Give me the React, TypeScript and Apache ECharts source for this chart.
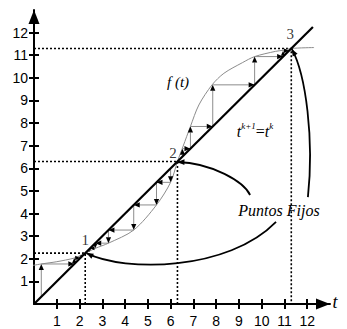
import React, { useEffect, useRef } from 'react';
import * as echarts from 'echarts';

// ---- data ----
const axisTicks = [1, 2, 3, 4, 5, 6, 7, 8, 9, 10, 11, 12];
const fixedPoints = [2.25, 6.3, 11.3];
const fixedPointNames = ['1', '2', '3'];

// f(t) curve
const curveT = [-0.26, 0.32, 1.0, 1.77, 2.03, 2.25, 2.46, 2.69, 3.27, 4.38, 5.38, 6.0, 6.3, 6.55, 6.87, 7.24, 7.82, 8.34, 9.15, 9.69, 10.6, 10.94, 11.3, 12.3];
const curveF = [1.67, 1.77, 1.87, 2.03, 2.14, 2.25, 2.35, 2.46, 2.69, 3.27, 4.38, 5.38, 6.3, 6.98, 7.85, 8.8, 9.69, 10.2, 10.67, 10.94, 11.17, 11.22, 11.3, 11.34];

// cobweb iterations: t^k and f(t^k)
const stairLowT = [0.32, 1.77, 2.03, 2.14];
const stairLowF = [1.77, 2.03, 2.14, 2.2];
const stairMidT = [6.0, 5.38, 4.38, 3.27, 2.69, 2.46];
const stairMidF = [5.38, 4.38, 3.27, 2.69, 2.46, 2.35];
const stairUpT = [6.52, 6.87, 7.85, 9.69, 10.94];
const stairUpF = [6.87, 7.85, 9.69, 10.94, 11.2];

// identity line t^{k+1} = t^k
const diagonalEnd = 12.25;

// "Puntos Fijos" pointers (start, control 1, control 2, end) in data units
const pointerToP2 = [9.49, 4.82, 9.22, 5.4, 7.82, 6.24, 6.3, 6.28];
const pointerToP1 = [10.63, 3.63, 8.52, 1.45, 4.0, 1.4, 2.3, 2.25];
const pointerToP3 = [12.03, 4.73, 12.3, 7.26, 11.95, 10.13, 11.32, 11.28];

function stairs(ts: number[], fs: number[]) {
  const segs: number[][] = [];
  ts.forEach((t, i) => {
    const f = fs[i];
    segs.push([t, t, t, f]);
    segs.push([t, f, f, f]);
  });
  return segs;
}

function arrowHead(tip: number[], ux: number, uy: number, L: number, W: number) {
  const bx = tip[0] - ux * L;
  const by = tip[1] - uy * L;
  return {
    base: [bx, by],
    points: [
      [tip[0], tip[1]],
      [bx - uy * W, by + ux * W],
      [bx + uy * W, by - ux * W],
    ],
  };
}

const serif = "'Liberation Serif', 'DejaVu Serif', serif";
const sans = "'Liberation Sans', Arial, sans-serif";

function serifText(x: number, y: number, text: string, size: number, italic: boolean) {
  return {
    type: 'text',
    x,
    y,
    style: {
      text,
      fill: '#000',
      font: `${italic ? 'italic ' : ''}${size}px ${serif}`,
      fontFamily: serif,
      fontStyle: italic ? 'italic' : 'normal',
      fontSize: size,
      align: 'center',
      verticalAlign: 'middle',
    },
  };
}

export default function App() {
  const ref = useRef<HTMLDivElement>(null);

  useEffect(() => {
    if (!ref.current) return;
    const chart = echarts.init(ref.current, null, { renderer: 'svg' });

    const cobweb = [
      ...stairs(stairLowT, stairLowF),
      ...stairs(stairMidT, stairMidF),
      ...stairs(stairUpT, stairUpF),
    ];

    const axisLineStyle = { color: '#000', width: 2 };
    const xBase = { type: 'value', min: 0, max: 13, interval: 1, position: 'bottom', splitLine: { show: false } };
    const yBase = { type: 'value', min: 0, max: 13, interval: 1, position: 'left', splitLine: { show: false } };

    const labelOffsets = [
      [0, -13],
      [-4.5, -8.5],
      [-1, -14],
    ];

    const option: any = {
      animation: false,
      backgroundColor: '#fff',
      grid: { left: 34, right: 17, top: 10, bottom: 25, containLabel: false },
      xAxis: [
        {
          ...xBase,
          axisLine: {
            show: true,
            onZero: false,
            symbol: ['none', 'triangle'],
            symbolSize: [11, 14],
            symbolOffset: [0, -7],
            lineStyle: axisLineStyle,
          },
          axisTick: { show: true, inside: false, length: 5, customValues: axisTicks, lineStyle: axisLineStyle },
          axisLabel: { show: true, customValues: axisTicks, margin: 10, color: '#000', fontFamily: sans, fontSize: 14 },
        },
        {
          ...xBase,
          axisLine: { show: false, onZero: false },
          axisTick: { show: true, inside: true, length: 5, customValues: axisTicks, lineStyle: axisLineStyle },
          axisLabel: { show: false },
        },
      ],
      yAxis: [
        {
          ...yBase,
          axisLine: {
            show: true,
            onZero: false,
            symbol: ['none', 'triangle'],
            symbolSize: [11, 14],
            symbolOffset: [0, -7],
            lineStyle: axisLineStyle,
          },
          axisTick: { show: true, inside: false, length: 5, customValues: axisTicks, lineStyle: axisLineStyle },
          axisLabel: { show: true, customValues: axisTicks, margin: 6, color: '#000', fontFamily: sans, fontSize: 14 },
        },
        {
          ...yBase,
          axisLine: { show: false, onZero: false },
          axisTick: { show: true, inside: true, length: 5, customValues: axisTicks, lineStyle: axisLineStyle },
          axisLabel: { show: false },
        },
      ],
      series: [
        ...fixedPoints.map((p) => ({
          type: 'line',
          xAxisIndex: 0,
          yAxisIndex: 0,
          data: [
            [0, p],
            [p, p],
            [p, 0],
          ],
          symbol: 'none',
          silent: true,
          z: 1,
          lineStyle: { color: '#000', width: 1.6, type: [2, 2] },
        })),
        {
          type: 'line',
          xAxisIndex: 0,
          yAxisIndex: 0,
          data: curveT.map((t, i) => [t, curveF[i]]),
          smooth: 0.3,
          symbol: 'none',
          clip: false,
          silent: true,
          z: 2,
          lineStyle: { color: '#8c8c8c', width: 1 },
        },
        {
          type: 'line',
          xAxisIndex: 0,
          yAxisIndex: 0,
          data: [
            [0, 0],
            [diagonalEnd, diagonalEnd],
          ],
          symbol: 'none',
          silent: true,
          z: 4,
          lineStyle: { color: '#000', width: 2.2 },
        },
        {
          type: 'custom',
          xAxisIndex: 0,
          yAxisIndex: 0,
          data: cobweb,
          encode: { x: [0, 2], y: [1, 3] },
          clip: false,
          silent: true,
          z: 3,
          renderItem: (params: any, api: any) => {
            const p1 = api.coord([api.value(0), api.value(1)]);
            const p2 = api.coord([api.value(2), api.value(3)]);
            const dx = p2[0] - p1[0];
            const dy = p2[1] - p1[1];
            const len = Math.hypot(dx, dy) || 1;
            const ux = dx / len;
            const uy = dy / len;
            const L = Math.min(6, len * 0.85);
            const W = Math.min(2.6, L * 0.45);
            const ah = arrowHead(p2, ux, uy, L, W);
            return {
              type: 'group',
              children: [
                {
                  type: 'line',
                  shape: { x1: p1[0], y1: p1[1], x2: ah.base[0], y2: ah.base[1] },
                  style: { stroke: '#8c8c8c', lineWidth: 1 },
                },
                { type: 'polygon', shape: { points: ah.points }, style: { fill: '#000' } },
              ],
            };
          },
        },
        {
          type: 'custom',
          xAxisIndex: 0,
          yAxisIndex: 0,
          data: [pointerToP2, pointerToP1, pointerToP3],
          encode: { x: [0, 2, 4, 6], y: [1, 3, 5, 7] },
          clip: false,
          silent: true,
          z: 5,
          renderItem: (params: any, api: any) => {
            const a = api.coord([api.value(0), api.value(1)]);
            const c1 = api.coord([api.value(2), api.value(3)]);
            const c2 = api.coord([api.value(4), api.value(5)]);
            const b = api.coord([api.value(6), api.value(7)]);
            const dx = b[0] - c2[0];
            const dy = b[1] - c2[1];
            const len = Math.hypot(dx, dy) || 1;
            const ah = arrowHead(b, dx / len, dy / len, 7, 2.8);
            return {
              type: 'group',
              children: [
                {
                  type: 'bezierCurve',
                  shape: { x1: a[0], y1: a[1], cpx1: c1[0], cpy1: c1[1], cpx2: c2[0], cpy2: c2[1], x2: b[0], y2: b[1] },
                  style: { stroke: '#000', lineWidth: 1.8, fill: null },
                },
                { type: 'polygon', shape: { points: ah.points }, style: { fill: '#000' } },
              ],
            };
          },
        },
        {
          type: 'scatter',
          xAxisIndex: 0,
          yAxisIndex: 0,
          symbolSize: 1,
          itemStyle: { color: 'transparent' },
          silent: true,
          z: 6,
          label: {
            show: true,
            position: 'inside',
            formatter: (p: any) => fixedPointNames[p.dataIndex],
            color: '#000',
            textBorderWidth: 0,
            fontFamily: serif,
            fontSize: 15,
          },
          data: fixedPoints.map((p, i) => ({
            value: [p, p],
            label: { offset: labelOffsets[i] },
          })),
        },
      ],
      graphic: [
        serifText(335, 302, 't', 18, true),
        serifText(178, 81.5, 'f (t)', 15, true),
        {
          type: 'text',
          x: 255,
          y: 130,
          style: {
            text: '{b|t}{s|k+1}{e|=}{b|t}{s|k}',
            fill: '#000',
            align: 'center',
            verticalAlign: 'middle',
            rich: {
              b: { fontFamily: serif, fontStyle: 'italic', fontSize: 16, lineHeight: 18, verticalAlign: 'bottom', fill: '#000' },
              e: { fontFamily: serif, fontSize: 16, lineHeight: 18, verticalAlign: 'bottom', fill: '#000' },
              s: { fontFamily: serif, fontStyle: 'italic', fontSize: 9, lineHeight: 10, verticalAlign: 'top', fill: '#000' },
            },
          },
        },
        serifText(279, 210, 'Puntos Fijos', 16, true),
      ],
    };

    chart.setOption(option);
    return () => chart.dispose();
  }, []);

  return (
    <div
      ref={ref}
      style={{ position: 'absolute', left: 0, top: 0, width: 347, height: 329, background: '#fff' }}
    />
  );
}
